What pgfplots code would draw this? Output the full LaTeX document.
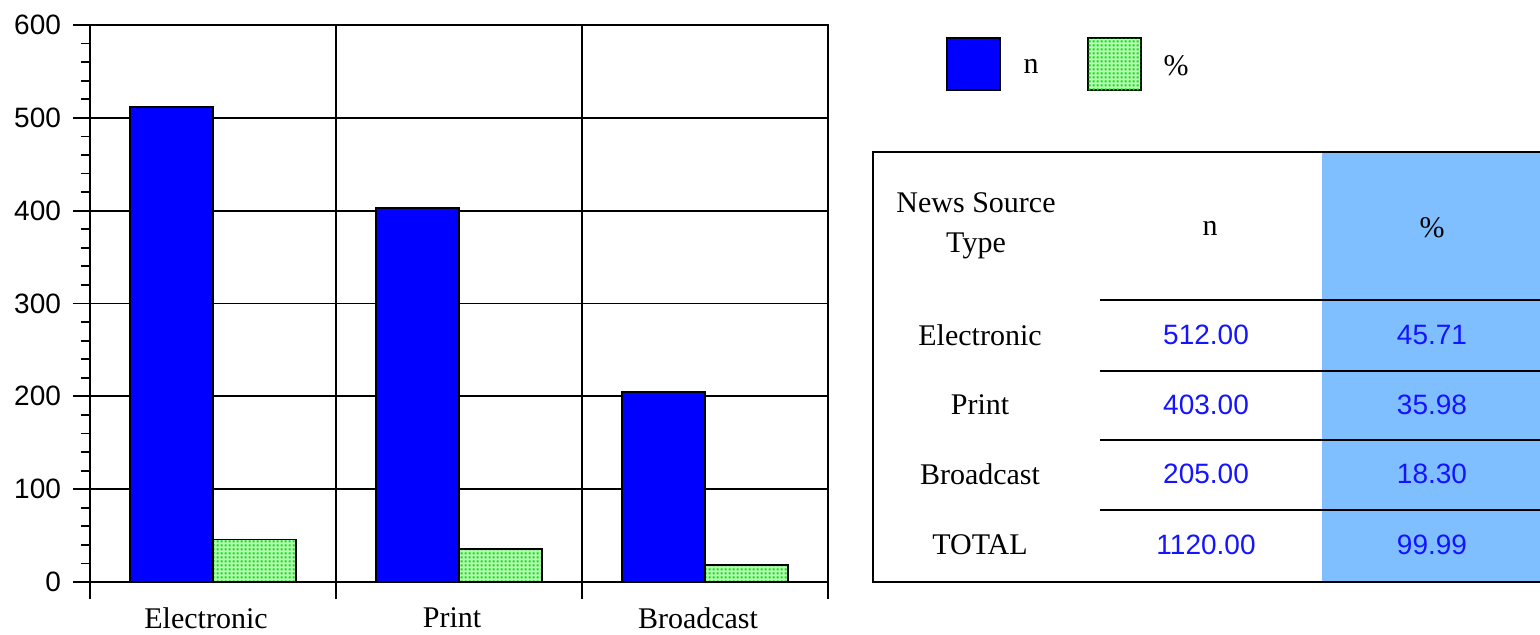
\documentclass[border=0pt]{standalone}
\usepackage{fontspec}
\setmainfont{Liberation Serif}
\newfontfamily\sansf{Liberation Sans}
\usepackage{pgfplots}
\pgfplotsset{compat=1.18}
\usetikzlibrary{patterns}
\definecolor{barblue}{RGB}{0,0,255}
\definecolor{dotgreen}{RGB}{0,230,0}
\definecolor{lightgreen}{RGB}{190,250,190}
\definecolor{tblue}{RGB}{128,191,255}
\definecolor{numblue}{RGB}{20,20,255}
\pgfdeclarepatternformonly{gdots}{\pgfqpoint{0pt}{0pt}}{\pgfqpoint{2pt}{2pt}}{\pgfqpoint{2pt}{2pt}}{\pgfpathrectangle{\pgfqpoint{0.4pt}{0.4pt}}{\pgfqpoint{1.2pt}{1.2pt}}\pgfusepath{fill}}

\begin{document}
\begin{tikzpicture}
\useasboundingbox (0,0) rectangle (770pt,-317pt);
\begin{axis}[
  at={(45pt,-291pt)}, anchor=south west,
  scale only axis, width=369pt, height=278.5pt,
  xmin=0, xmax=3, ymin=0, ymax=600,
  xtick={0,1,2,3}, xticklabels={},
  extra x ticks={0.5,1.5,2.5},
  extra x tick labels={Electronic,Print,Broadcast},
  extra x tick style={major tick length=0pt, grid=none, tick label style={font=\fontsize{15}{15}\selectfont, yshift=-9.5pt, xshift=-3.5pt}},
  ytick={0,100,...,600}, minor y tick num=4,
  xmajorgrids, ymajorgrids,
  grid style={black, line width=0.9pt},
  tick align=outside, xtick pos=left, ytick pos=left,
  major tick length=8.5pt, minor tick length=4.5pt,
  tick style={black, line width=0.9pt},
  axis line style={line width=0.9pt},
  /pgf/number format/assume math mode=true,
  yticklabel style={font=\sansf\fontsize{14}{14}\selectfont, xshift=-2.5pt},
]
\addplot[ybar, bar width=0.337, fill=barblue, draw=black, line width=0.9pt]
  coordinates {(0.3315,512) (1.3315,403) (2.3315,205)};
\addplot[ybar, bar width=0.337, fill=lightgreen, postaction={pattern=gdots, pattern color=dotgreen}, draw=black, line width=0.9pt]
  coordinates {(0.6685,45.71) (1.6685,35.98) (2.6685,18.30)};
\end{axis}
\begin{scope}[x=0.5pt,y=-0.5pt]
  % legend
  \draw[line width=1pt, fill=barblue] (947,38) rectangle (1000,90);
  \node[font=\fontsize{15}{15}\selectfont] at (1031,66) {n};
  \draw[line width=1pt, fill=lightgreen, postaction={pattern=gdots, pattern color=dotgreen}] (1088,38) rectangle (1141,90);
  \node[font=\fontsize{15}{15}\selectfont] at (1176,66) {\%};
  % table
  \fill[tblue] (1322,152) rectangle (1545,582);
  \draw[line width=1pt] (1545,152) -- (873,152) -- (873,582) -- (1545,582);
  \foreach \yy in {300,371,440,510} \draw[line width=1pt] (1100,\yy) -- (1545,\yy);
  \node[font=\fontsize{15}{20}\selectfont, align=center] at (976,226) {News Source\\Type};
  \node[font=\fontsize{15}{15}\selectfont] at (1210,228) {n};
  \node[font=\fontsize{15}{15}\selectfont] at (1432,228) {\%};
  \foreach \lab/\nn/\pp/\yy in {Electronic/512.00/45.71/335, Print/403.00/35.98/405, Broadcast/205.00/18.30/474, TOTAL/1120.00/99.99/545} {
    \node[font=\fontsize{15}{15}\selectfont] at (980,\yy) {\lab};
    \node[font=\sansf\fontsize{14}{14}\selectfont, text=numblue] at (1206,\yy) {\nn};
    \node[font=\sansf\fontsize{14}{14}\selectfont, text=numblue] at (1432,\yy) {\pp};
  }
\end{scope}
\end{tikzpicture}
\end{document}
